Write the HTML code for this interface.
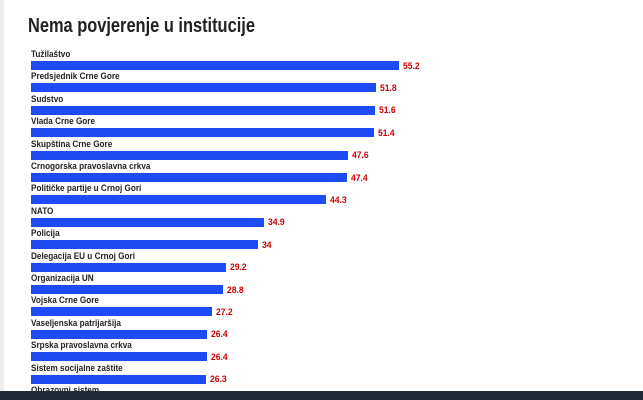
<!DOCTYPE html>
<html><head><meta charset="utf-8"><style>
html,body{margin:0;width:643px;height:400px;overflow:hidden}
body{background:#fff;font-family:"Liberation Sans",sans-serif;position:relative}
.t{position:absolute;left:28px;top:15px;font-size:20px;font-weight:bold;color:#222;transform:scaleX(0.82);transform-origin:0 0;white-space:nowrap}
.l{position:absolute;left:31px;font-size:9.5px;font-weight:bold;color:#222;white-space:nowrap;transform:scaleX(0.86);transform-origin:0 0}
.b{position:absolute;left:31px;height:9px;background:#1f4bf5}
.v{position:absolute;font-size:9.5px;font-weight:bold;color:#c00;transform:scaleX(0.9);transform-origin:0 0}
.edge{position:absolute;left:0;top:0;width:4px;height:392px;background:#eee}
.tb{position:absolute;left:0;top:391px;width:643px;height:9px;background:#1f2b36;z-index:5}
</style></head><body>
<div class="edge"></div>
<div class="t">Nema povjerenje u institucije</div>
<div id="c"></div>
<div class="tb"></div>
<script>
var d=[["Tužilaštvo",55.2],["Predsjednik Crne Gore",51.8],["Sudstvo",51.6],["Vlada Crne Gore",51.4],["Skupština Crne Gore",47.6],["Crnogorska pravoslavna crkva",47.4],["Političke partije u Crnoj Gori",44.3],["NATO",34.9],["Policija",34],["Delegacija EU u Crnoj Gori",29.2],["Organizacija UN",28.8],["Vojska Crne Gore",27.2],["Vaseljenska patrijaršija",26.4],["Srpska pravoslavna crkva",26.4],["Sistem socijalne zaštite",26.3]];
var h="";d.forEach(function(r,i){var y=61+22.4*i,w=r[1]*6.667;
h+='<div class="l" style="top:'+(y-12)+'px">'+r[0]+'</div><div class="b" style="top:'+y+'px;width:'+w+'px"></div><div class="v" style="top:'+(y-0.5)+'px;left:'+(31+w+4)+'px">'+r[1]+'</div>';});
h+='<div class="l" style="top:'+(61+22.4*15-12)+'px">Obrazovni sistem</div>';
document.getElementById("c").innerHTML=h;
</script>
</body></html>
